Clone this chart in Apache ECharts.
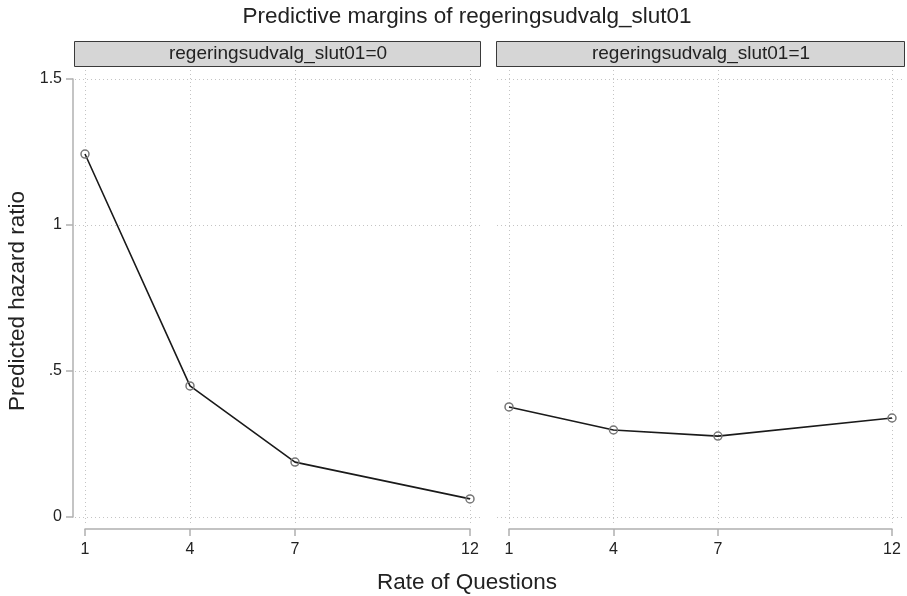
<!DOCTYPE html>
<html>
<head>
<meta charset="utf-8">
<script src="https://cdn.jsdelivr.net/npm/echarts@6/dist/echarts.min.js"></script>
<style>
html,body{margin:0;padding:0;background:#fff;}
#chart{width:907px;height:596px;}
</style>
</head>
<body>
<div id="chart"></div>
<script>
// ---- data ----
const chartTitle = 'Predictive margins of regeringsudvalg_slut01';
const panelLabels = ['regeringsudvalg_slut01=0', 'regeringsudvalg_slut01=1'];
const rateOfQuestions = [1, 4, 7, 12];
const hazardPanel0 = [1.243, 0.449, 0.188, 0.062];
const hazardPanel1 = [0.377, 0.298, 0.277, 0.339];
const xTickValues = [1, 4, 7, 12];
const xTickLabels = ['1', '4', '7', '12'];
const yTickValues = [0, 0.5, 1, 1.5];
const yTickLabels = ['0', '.5', '1', '1.5'];
const xTitle = 'Rate of Questions';
const yTitle = 'Predicted hazard ratio';

// ---- layout ----
const FONT = '"Liberation Sans", Arial, Helvetica, sans-serif';
const plotTop = 69, plotBottom = 523;
const dataTop = 79, dataBottom = 517;
const panelsLayout = [
  { plotLeft: 75, plotRight: 481, dataLeft: 85, dataRight: 470 },
  { plotLeft: 497, plotRight: 905, dataLeft: 509, dataRight: 892 }
];
const xLo = 1, xHi = 12, yLo = 0, yHi = 1.5;
const yScale = (dataBottom - dataTop) / (yHi - yLo);
const yMinPad = yLo - (plotBottom - dataBottom) / yScale;
const yMaxPad = yHi + (dataTop - plotTop) / yScale;

const grids = [], xAxes = [], yAxes = [], series = [], graphics = [];
const seriesData = [hazardPanel0, hazardPanel1];

panelsLayout.forEach((p, i) => {
  const xs = (p.dataRight - p.dataLeft) / (xHi - xLo);
  const xMinPad = xLo - (p.dataLeft - p.plotLeft) / xs;
  const xMaxPad = xHi + (p.plotRight - p.dataRight) / xs;
  // plot grid (index 2*i)
  grids.push({ left: p.plotLeft, top: plotTop, width: p.plotRight - p.plotLeft, height: plotBottom - plotTop, containLabel: false, outerBoundsMode: 'none' });
  xAxes.push({ type: 'value', gridIndex: 2 * i, min: xMinPad, max: xMaxPad, show: false, splitLine: { show: false } });
  yAxes.push({ type: 'value', gridIndex: 2 * i, min: yMinPad, max: yMaxPad, show: false, splitLine: { show: false } });
  // axis grid (index 2*i+1)
  grids.push({ left: p.dataLeft, top: dataTop, width: p.dataRight - p.dataLeft, height: dataBottom - dataTop, containLabel: false, outerBoundsMode: 'none' });
  xAxes.push({
    type: 'value', gridIndex: 2 * i + 1, min: xLo, max: xHi, position: 'bottom', offset: 12,
    axisLine: { show: true, onZero: false, lineStyle: { color: '#b0b0b0', width: 1.5 } },
    axisTick: { show: true, customValues: xTickValues, length: 7, lineStyle: { color: '#b0b0b0', width: 1.5 } },
    axisLabel: { show: true, customValues: xTickValues, margin: 13,
      formatter: v => xTickLabels[xTickValues.indexOf(v)], color: '#222', fontSize: 16, fontFamily: FONT },
    splitLine: { show: false }
  });
  yAxes.push({
    type: 'value', gridIndex: 2 * i + 1, min: yLo, max: yHi, position: 'left', offset: 12, show: i === 0,
    axisLine: { show: true, onZero: false, lineStyle: { color: '#b0b0b0', width: 1.5 } },
    axisTick: { show: true, customValues: yTickValues, length: 7, lineStyle: { color: '#b0b0b0', width: 1.5 } },
    axisLabel: { show: true, customValues: yTickValues, margin: 11,
      formatter: v => yTickLabels[yTickValues.indexOf(v)], color: '#222', fontSize: 16, fontFamily: FONT },
    splitLine: { show: false }
  });
  // gridlines
  const ml = [];
  yTickValues.forEach(v => ml.push({ yAxis: v }));
  xTickValues.forEach(v => ml.push({ xAxis: v }));
  series.push({
    type: 'line', xAxisIndex: 2 * i, yAxisIndex: 2 * i, data: [], z: 1, silent: true,
    markLine: { silent: true, symbol: ['none', 'none'], animation: false, label: { show: false },
      lineStyle: { type: [1, 3], color: '#c4c4c4', width: 1 }, data: ml }
  });
  series.push({
    type: 'line', xAxisIndex: 2 * i, yAxisIndex: 2 * i, z: 5,
    data: rateOfQuestions.map((x, k) => [x, seriesData[i][k]]),
    symbol: 'circle', symbolSize: 8, showAllSymbol: true,
    itemStyle: { color: 'rgba(255,255,255,0)', borderColor: '#777777', borderWidth: 1.5 },
    lineStyle: { color: '#1a1a1a', width: 1.6 },
    emphasis: { disabled: true }, animation: false
  });
  // strip
  graphics.push({
    type: 'rect', shape: { x: p.plotLeft - 0.5, y: 41.5, width: p.plotRight - p.plotLeft, height: 25 },
    style: { fill: '#d6d6d6', stroke: '#3a3a3a', lineWidth: 1 }, silent: true
  });
  graphics.push({
    type: 'text', x: (p.plotLeft + p.plotRight) / 2, y: 54,
    style: { text: panelLabels[i], fill: '#222', font: '19px ' + FONT, align: 'center', verticalAlign: 'middle' }, silent: true
  });
});

graphics.push({ type: 'text', x: 467, y: 17, style: { text: chartTitle, fill: '#222', font: '22.5px ' + FONT, align: 'center', verticalAlign: 'middle' } });
graphics.push({ type: 'text', x: 467, y: 583, style: { text: xTitle, fill: '#222', font: '22.5px ' + FONT, align: 'center', verticalAlign: 'middle' } });
graphics.push({ type: 'text', x: 18, y: 301, rotation: Math.PI / 2, style: { text: yTitle, fill: '#222', font: '22.5px ' + FONT, align: 'center', verticalAlign: 'middle' } });

const chart = echarts.init(document.getElementById('chart'), null, { renderer: 'canvas' });
chart.setOption({
  animation: false,
  backgroundColor: '#fff',
  grid: grids, xAxis: xAxes, yAxis: yAxes, series: series, graphic: graphics
});
</script>
</body>
</html>
